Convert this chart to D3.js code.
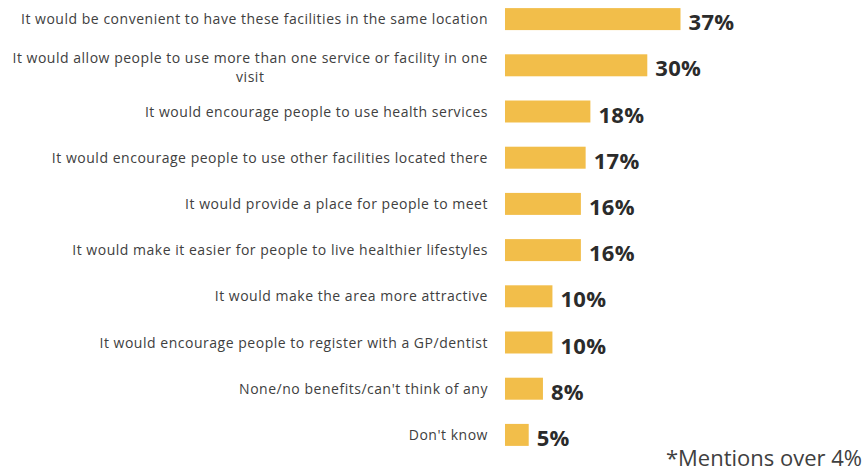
<!DOCTYPE html>
<html><head><meta charset="utf-8">
<script src="https://cdn.jsdelivr.net/npm/d3@7"></script>
<style>body{margin:0;background:#fff;} text{font-family:"Open Sans",sans-serif;}</style>
</head><body>
<svg id="c" width="867" height="471"></svg>
<script>
const categories = [
  "It would be convenient to have these facilities in the same location",
  "It would allow people to use more than one service or facility in one|visit",
  "It would encourage people to use health services",
  "It would encourage people to use other facilities located there",
  "It would provide a place for people to meet",
  "It would make it easier for people to live healthier lifestyles",
  "It would make the area more attractive",
  "It would encourage people to register with a GP/dentist",
  "None/no benefits/can't think of any",
  "Don't know"
];
const values = [37, 30, 18, 17, 16, 16, 10, 10, 8, 5];
const footnote = "*Mentions over 4%";

const svg = d3.select("#c");
const y = d3.scaleBand().domain(categories).range([-4, 458]).paddingInner(0.524).paddingOuter(0.262);
const x = d3.scaleLinear().domain([0, 37]).range([505, 680.5]);

svg.selectAll("rect.bar").data(values).join("rect")
  .attr("class","bar")
  .attr("x", x(0))
  .attr("y", (d,i)=>y(categories[i]))
  .attr("width", d=>x(d)-x(0))
  .attr("height", y.bandwidth())
  .attr("fill", "#F2BE4A");

svg.selectAll("text.val").data(values).join("text")
  .attr("class","val")
  .attr("x", d=>x(d)+8)
  .attr("y", (d,i)=>y(categories[i]) + y.bandwidth()/2 + 11)
  .attr("font-size", 22).attr("font-weight", "bold").attr("fill", "#2b2b2b")
  .attr("letter-spacing", 0.3)
  .text(d=>d+"%");

const labelRight = 488;
const fs = 14, ls = 0.52;
categories.forEach((c,i)=>{
  const lines = c.split("|");
  const cy = y(c) + y.bandwidth()/2;
  const lh = 19;
  const g = svg.append("g");
  const t = g.append("text").attr("font-size", fs).attr("letter-spacing", ls).attr("fill", "#404040");
  const n = lines.length;
  const y0 = cy + 5 - (n-1)*lh/2 + (n>1?2:0);
  if (n === 1) {
    t.attr("text-anchor","end").attr("x", labelRight).attr("y", y0).text(lines[0]);
  } else {
    const tmp = g.append("text").attr("font-size",fs).attr("letter-spacing", ls).text(lines[0]);
    const w = tmp.node().getComputedTextLength();
    tmp.remove();
    const cx = labelRight - w/2;
    t.attr("text-anchor","middle");
    lines.forEach((l,j)=>{
      t.append("tspan").attr("x", cx).attr("y", y0 + j*lh).text(l);
    });
  }
});

svg.append("text").attr("x", 862).attr("y", 466).attr("text-anchor","end")
  .attr("font-size", 22).attr("fill", "#404040").text(footnote);
</script>
</body></html>
